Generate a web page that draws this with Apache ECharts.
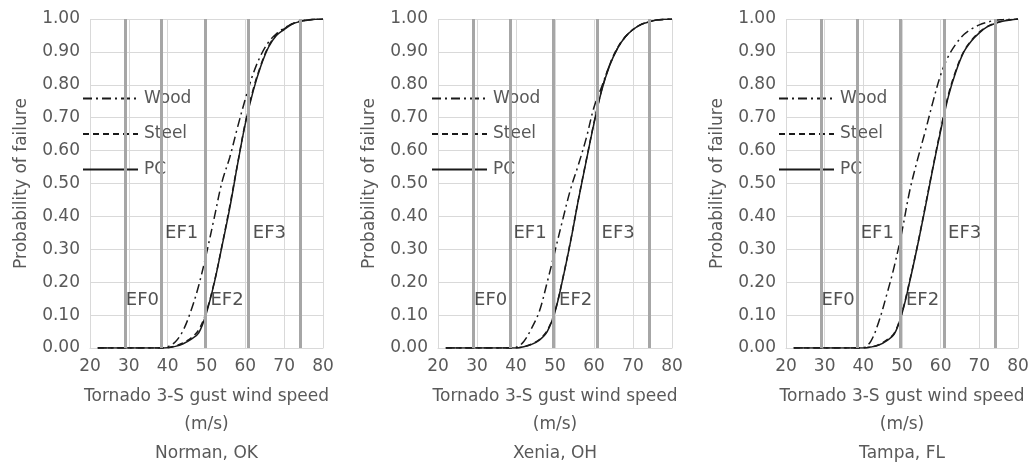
<!DOCTYPE html>
<html><head><meta charset="utf-8">
<script src="https://cdn.jsdelivr.net/npm/echarts@6/dist/echarts.min.js"></script>
<style>html,body{margin:0;padding:0;background:#fff}#c{width:1032px;height:467px}</style>
</head><body><div id="c"></div>
<script>
// ---- data ----
const windSpeeds = [22,24,26,28,30,32,34,36,38,40,42,44,46,48,50,52,54,56,58,60,62,64,66,68,70,72,74,76,78,80];
const sites = ['Norman, OK', 'Xenia, OH', 'Tampa, FL'];
const seriesNames = ['Wood', 'Steel', 'PC'];

const normanWood  = [0,0,0,0,0,0,0,0,0,0.004,0.019,0.054,0.113,0.19,0.288,0.396,0.505,0.58,0.671,0.757,0.833,0.89,0.93,0.955,0.972,0.985,0.993,0.997,0.999,1.0];
const normanSteel = [0,0,0,0,0,0,0,0,0,0.001,0.006,0.016,0.03,0.055,0.112,0.2,0.312,0.432,0.56,0.685,0.785,0.86,0.918,0.952,0.97,0.985,0.993,0.997,0.999,1.0];
const normanPC    = [0,0,0,0,0,0,0,0,0,0.001,0.005,0.013,0.026,0.046,0.107,0.198,0.31,0.426,0.558,0.682,0.78,0.857,0.915,0.95,0.968,0.984,0.992,0.996,0.999,1.0];

const xeniaWood  = [0,0,0,0,0,0,0,0,0,0.002,0.02,0.06,0.112,0.2,0.295,0.391,0.483,0.557,0.637,0.732,0.795,0.86,0.91,0.945,0.968,0.983,0.991,0.997,0.999,1.0];
const xeniaSteel = [0,0,0,0,0,0,0,0,0,0,0.004,0.012,0.026,0.053,0.112,0.212,0.326,0.452,0.57,0.685,0.786,0.86,0.912,0.946,0.968,0.983,0.991,0.997,0.999,1.0];
const xeniaPC    = [0,0,0,0,0,0,0,0,0,0,0.004,0.011,0.024,0.05,0.11,0.21,0.324,0.45,0.568,0.683,0.784,0.858,0.91,0.945,0.968,0.983,0.991,0.997,0.999,1.0];

const tampaWood  = [0,0,0,0,0,0,0,0,0,0.001,0.022,0.08,0.16,0.248,0.355,0.478,0.572,0.658,0.748,0.83,0.887,0.925,0.953,0.97,0.982,0.99,0.996,0.998,0.999,1.0];
const tampaSteel = [0,0,0,0,0,0,0,0,0,0,0.003,0.01,0.024,0.045,0.108,0.205,0.312,0.43,0.55,0.665,0.77,0.846,0.902,0.936,0.96,0.977,0.987,0.994,0.998,1.0];
const tampaPC    = [0,0,0,0,0,0,0,0,0,0,0.003,0.009,0.022,0.042,0.105,0.202,0.31,0.426,0.547,0.66,0.765,0.842,0.9,0.934,0.958,0.976,0.986,0.993,0.997,1.0];

const efBounds = [29, 38.4, 49.6, 60.8, 74.2];
const efNames  = ['EF0', 'EF1', 'EF2', 'EF3'];
const efLabelX = [33.5, 43.6, 55.3, 66.2];
const efLabelY = [0.146, 0.35, 0.146, 0.35];

const xAxisTitle = 'Tornado 3-S gust wind speed\n(m/s)';
const yAxisTitle = 'Probability of failure';

// ---- layout / style ----
const FONT = 'DejaVu Sans';
const GRAY = '#595959';
const panelData = [
  [normanWood, normanSteel, normanPC],
  [xeniaWood, xeniaSteel, xeniaPC],
  [tampaWood, tampaSteel, tampaPC]
];
const grids = [
  {left: 90,  top: 19, width: 233, height: 329},
  {left: 438, top: 19, width: 234, height: 329},
  {left: 786, top: 19, width: 232, height: 329}
];
const legendLeft = [82, 431, 778];
const lineTypes = [[9, 4, 2, 4], [6, 4], 'solid'];

const xAxes = [], yAxes = [], series = [], legends = [], titles = [];
grids.forEach((g, i) => {
  xAxes.push({
    type: 'value', gridIndex: i, min: 20, max: 80, interval: 10,
    name: xAxisTitle, nameLocation: 'middle', nameGap: 35,
    nameTextStyle: {fontFamily: FONT, fontSize: 17, color: GRAY, lineHeight: 28},
    axisLine: {show: true, lineStyle: {color: '#d9d9d9'}},
    axisTick: {show: false},
    axisLabel: {fontFamily: FONT, fontSize: 17, color: GRAY, margin: 10},
    splitLine: {show: true, lineStyle: {color: '#d9d9d9', width: 1}}
  });
  yAxes.push({
    type: 'value', gridIndex: i, min: 0, max: 1, interval: 0.1,
    name: yAxisTitle, nameLocation: 'middle', nameGap: 60, nameRotate: 90,
    nameTextStyle: {fontFamily: FONT, fontSize: 17, color: GRAY},
    axisLine: {show: false}, axisTick: {show: false},
    axisLabel: {fontFamily: FONT, fontSize: 17, color: GRAY, margin: 10, formatter: v => v.toFixed(2)},
    splitLine: {show: true, lineStyle: {color: '#d9d9d9', width: 1}}
  });
  // EF zone boundaries and labels
  series.push({
    type: 'scatter', xAxisIndex: i, yAxisIndex: i, z: 1, silent: true,
    symbolSize: 0,
    data: efNames.map((n, k) => [efLabelX[k], efLabelY[k], n]),
    label: {show: true, position: 'inside', formatter: p => p.value[2],
            fontFamily: FONT, fontSize: 18, color: '#262626'},
    markLine: {
      silent: true, symbol: ['none', 'none'], label: {show: false},
      lineStyle: {color: '#a6a6a6', width: 3, type: 'solid'},
      data: efBounds.map(b => ({xAxis: b}))
    }
  });
  seriesNames.forEach((name, k) => {
    series.push({
      type: 'line', name: name, xAxisIndex: i, yAxisIndex: i, z: 3,
      showSymbol: false, symbol: 'none', smooth: 0.35,
      lineStyle: {color: '#1a1a1a', width: 1.5, type: lineTypes[k]},
      itemStyle: {color: '#1a1a1a'},
      data: windSpeeds.map((x, j) => [x, panelData[i][k][j]])
    });
  });
  legends.push({
    show: true, orient: 'vertical', left: legendLeft[i], top: 90, padding: 0,
    itemWidth: 55, itemHeight: 14, itemGap: 18.5, selectedMode: false,
    data: seriesNames,
    itemStyle: {color: 'rgba(0,0,0,0)', borderWidth: 0, opacity: 0},
    textStyle: {fontFamily: FONT, fontSize: 17, color: GRAY, padding: [0, 0, 0, 1]}
  });
  titles.push({
    text: sites[i], left: g.left + g.width / 2, top: 445, textAlign: 'center', padding: 0,
    textStyle: {fontFamily: FONT, fontSize: 17, fontWeight: 'normal', color: GRAY}
  });
});

const chart = echarts.init(document.getElementById('c'), null, {renderer: 'canvas'});
chart.setOption({
  animation: false,
  backgroundColor: '#ffffff',
  title: titles,
  legend: legends,
  grid: grids,
  xAxis: xAxes,
  yAxis: yAxes,
  series: series
});
</script>
</body></html>
